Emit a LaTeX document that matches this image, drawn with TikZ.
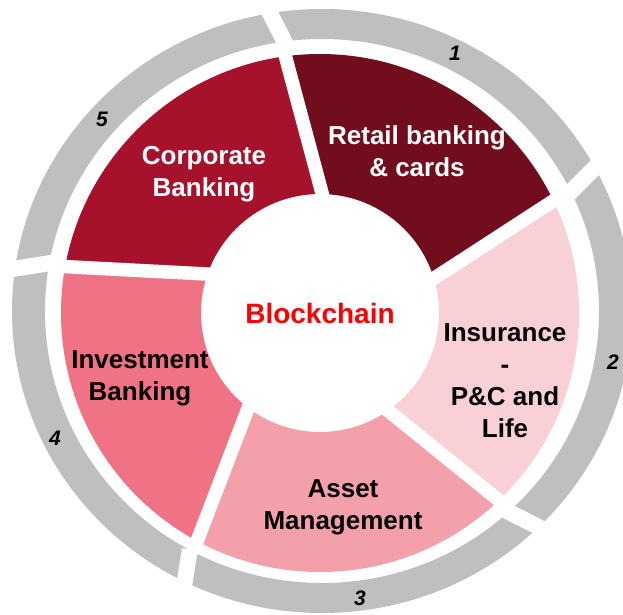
\documentclass[tikz,border=0pt]{standalone}
\usepackage{fontspec}
\setmainfont{Liberation Sans}
\usepackage{xcolor}

\definecolor{retailred}{HTML}{720D1D}
\definecolor{corpred}{HTML}{A6122B}
\definecolor{investpink}{HTML}{EF7285}
\definecolor{assetpink}{HTML}{F4A0AB}
\definecolor{insurpink}{HTML}{F9D0D6}
\definecolor{ringgray}{HTML}{BFBFBF}
\definecolor{chainred}{HTML}{FF0000}

\begin{document}
\begin{tikzpicture}[x=1pt, y=1pt,
    seglabel/.style={align=center, inner sep=0pt, font=\fontsize{26}{32}\selectfont\bfseries},
    ringnum/.style={inner sep=0pt, font=\fontsize{21}{21}\selectfont\bfseries\itshape},
    gapline/.style={white, line width=13.5pt},
    ringgap/.style={white, line width=16pt}]
  \useasboundingbox (-320,-301) rectangle (303,313);

  % grey outer ring
  \fill[ringgray, even odd rule] (2,2) ellipse [x radius=310, y radius=302]
                                 (2,2) ellipse [x radius=277, y radius=272];

  % coloured segments, each one cut by its two gap lines
  \foreach \a/\col in {105/retailred, 33/insurpink, -39/assetpink, -111/investpink, -183/corpred} {
    \begin{scope}
      \clip (\a-126:40.79) -- +(\a:700) -- +(\a-36:900) -- +(\a-72:700) -- cycle;
      \fill[\col, even odd rule] (0,0) circle (259) (0,0) circle (119);
    \end{scope}
  }

  % white gaps
  \foreach \a in {105, 33, -39, -111, -183} {
    \draw[gapline, shift={(\a-90:33)}] (\a:90) -- (\a:268);
    \draw[ringgap, shift={(\a-90:33)}, shift={(\a:285)}] (\a+12:-18) -- (\a+12:35);
  }

  \node[seglabel, text=white] (retail) at (97,162) {Retail banking\\\& cards};
  \node[seglabel, text=white] (corporate) at (-116,139) {Corporate\\Banking};
  \node[seglabel] (insurance) at (185,-68) {Insurance\\-\\P\&C and\\Life};
  \node[seglabel] (asset) at (23,-194) {Asset\\Management};
  \node[seglabel] (investment) at (-180,-65) {Investment\\Banking};
  \node[inner sep=0pt, font=\fontsize{28}{28}\selectfont\bfseries, text=chainred] (chain) at (0,0) {Blockchain};

  \node[ringnum] (n1) at (135,260) {1};
  \node[ringnum] (n2) at (293,-49) {2};
  \node[ringnum] (n3) at (40,-285) {3};
  \node[ringnum] (n4) at (-265,-125) {4};
  \node[ringnum] (n5) at (-218,194) {5};
\end{tikzpicture}
\end{document}
